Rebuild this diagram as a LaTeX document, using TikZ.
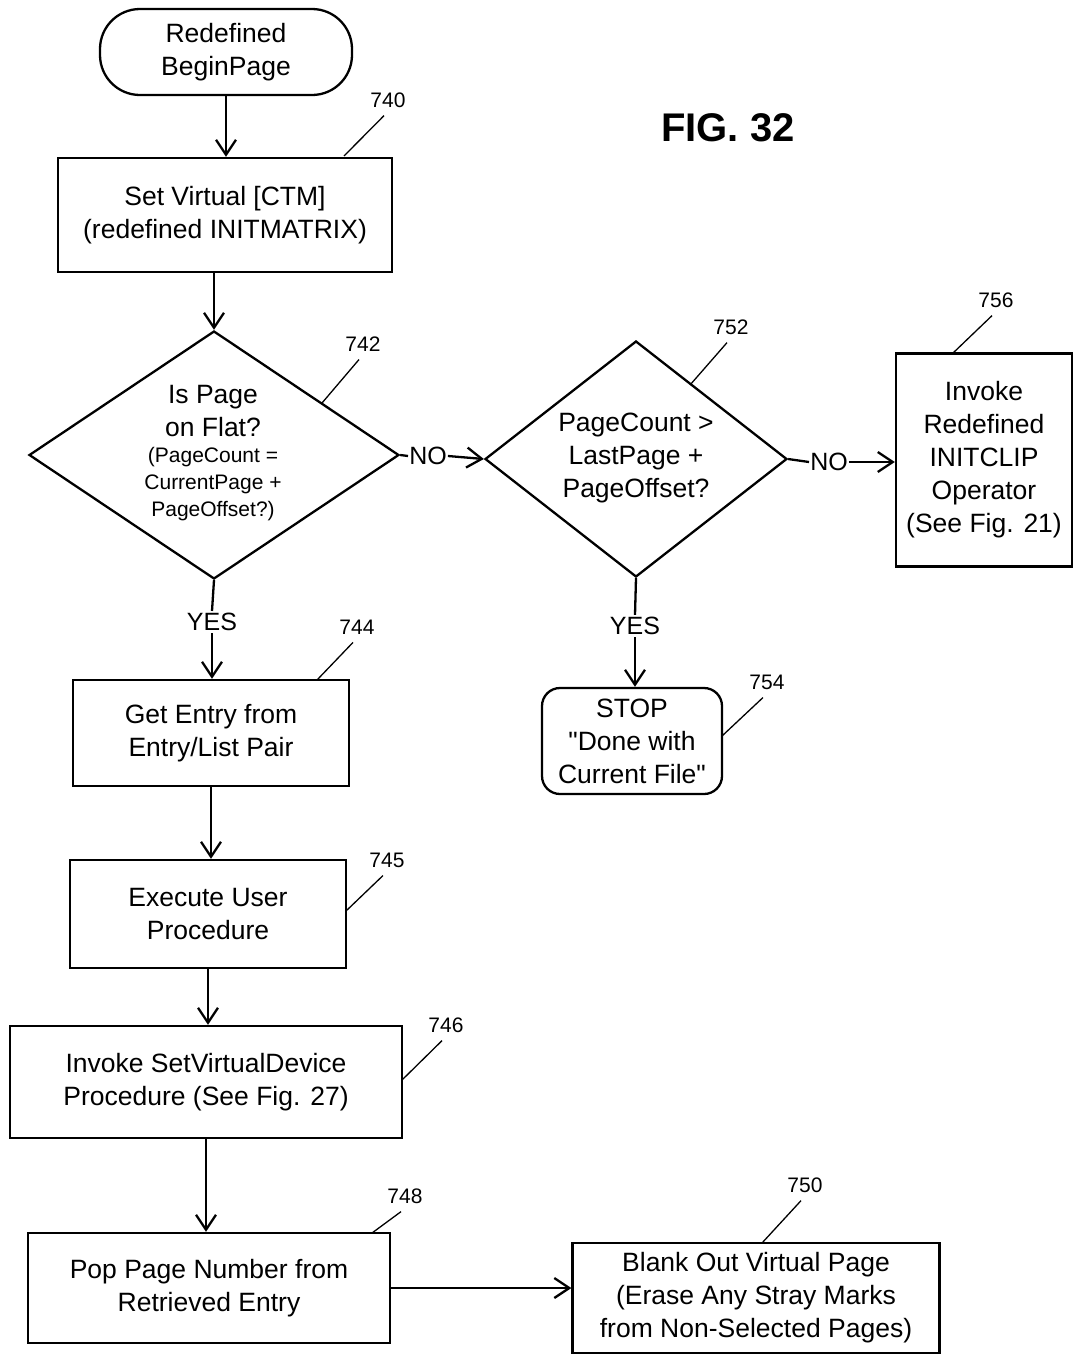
\documentclass[tikz,border=0pt]{standalone}
\usepackage{fontspec}
\setmainfont{Liberation Sans}
\usetikzlibrary{shapes.geometric,arrows.meta,calc}
\newcommand\straightdq{\XeTeXglyph\XeTeXcharglyph"22\relax}
\begin{document}
\begin{tikzpicture}[x=1pt,y=-1pt,
  every node/.style={font=\fontsize{26.5}{33}\selectfont, text=black, align=center},
  box/.style={draw, line width=2.3pt, rectangle, inner sep=0pt},
  term/.style={box, rounded corners=40pt},
  stopbox/.style={box, rounded corners=18pt},
  dia/.style={draw, line width=2.3pt, diamond, inner sep=0pt},
  flow/.style={line width=2.3pt, -{Straight Barb[length=15pt,width=20pt]}},
  link/.style={line width=2.3pt},
  lead/.style={line width=1.3pt},
  refno/.style={font=\fontsize{21}{24}\selectfont, inner sep=0pt},
  yn/.style={font=\fontsize{25}{30}\selectfont, inner sep=2pt}]
\useasboundingbox (0,0) rectangle (1074,1355);

% main blocks
\node[term, minimum width=252pt, minimum height=86pt] (start) at (226,52) {Redefined\\BeginPage};
\node[box, minimum width=334pt, minimum height=114pt] (b740) at (225,215) {Set Virtual [CTM]\\(redefined INITMATRIX)};
\node[dia, minimum width=370pt, minimum height=248pt] (d742) at (214,455) {};
\node (t742) at (213,411) {Is Page\\on Flat?};
\node[font=\fontsize{21}{27}\selectfont] (s742) at (213,484) {(PageCount =\\CurrentPage +\\PageOffset?)};
\node[dia, minimum width=302pt, minimum height=236pt] (d752) at (636,459) {};
\node (t752) at (636,458) {PageCount >\\LastPage +\\PageOffset?};
\node[box, minimum width=176pt, minimum height=213pt] (b756) at (984,460) {Invoke\\Redefined\\INITCLIP\\Operator\\(See Fig. 21)};
\node[yn, inner sep=1pt] (no1) at (428,456) {NO};
\node[yn, inner sep=1pt] (no2) at (829,462) {NO};
\node[yn] (yes1) at (212,622) {YES};
\node[yn] (yes2) at (635,626) {YES};
\node[box, minimum width=276pt, minimum height=106pt] (b744) at (211,733) {Get Entry from\\Entry/List Pair};
\node[stopbox, minimum width=180pt, minimum height=106pt] (s754) at (632,741) {STOP\\\straightdq Done with\\Current File\straightdq};
\node[box, minimum width=276pt, minimum height=108pt] (b745) at (208,914) {Execute User\\Procedure};
\node[box, minimum width=392pt, minimum height=112pt] (b746) at (206,1082) {Invoke SetVirtualDevice\\Procedure (See Fig. 27)};
\node[box, minimum width=362pt, minimum height=110pt] (b748) at (209,1288) {Pop Page Number from\\Retrieved Entry};
\node[box, minimum width=367pt, minimum height=110pt] (b750) at (756,1298) {Blank Out Virtual Page\\(Erase Any Stray Marks\\from Non-Selected Pages)};
\node[font=\bfseries\fontsize{40}{48}\selectfont] (fig) at (728,128) {FIG. 32};

% connectors
\draw[flow] (start.south) -- (start.south |- b740.north);
\draw[flow] (b740.south -| d742.north) -- (d742.north);
\draw[link] (d742.east) -- (no1.west);
\draw[flow] (no1.east) -- (d752.west);
\draw[link] (d752.east) -- (no2.west);
\draw[flow] (no2.east) -- (no2.east -| b756.west);
\draw[link] (d742.south) -- (yes1.north);
\draw[flow] (yes1.south) -- (yes1.south |- b744.north);
\draw[link] (d752.south) -- (yes2.north);
\draw[flow] (yes2.south) -- (yes2.south |- s754.north);
\draw[flow] (b744.south) -- (b744.south |- b745.north);
\draw[flow] (b745.south) -- (b745.south |- b746.north);
\draw[flow] (b746.south) -- (b746.south |- b748.north);
\draw[flow] (b748.east) -- (b748.east -| b750.west);

% reference numerals and leaders
\node[refno] (l740) at (388,100) {740};
\node[refno] (l742) at (363,344) {742};
\node[refno] (l752) at (731,327) {752};
\node[refno] (l756) at (996,300) {756};
\node[refno] (l744) at (357,627) {744};
\node[refno] (l754) at (767,682) {754};
\node[refno] (l745) at (387,860) {745};
\node[refno] (l746) at (446,1025) {746};
\node[refno] (l748) at (405,1196) {748};
\node[refno] (l750) at (805,1185) {750};
\coordinate (p740) at (344,156);
\coordinate (p742) at (322,403);
\coordinate (p752) at (690,385);
\coordinate (p756) at (952,354);
\coordinate (p744) at (317,680);
\coordinate (p754) at (722,736);
\coordinate (p745) at (346,911);
\coordinate (p746) at (402,1080);
\coordinate (p748) at (372,1233);
\coordinate (p750) at (762,1243);
\foreach \n in {740,742,752,756,744,754,745,746,748,750}{
  \draw[lead] ([xshift=-4pt,yshift=-8pt]l\n.south) -- (p\n);
}
\end{tikzpicture}
\end{document}
